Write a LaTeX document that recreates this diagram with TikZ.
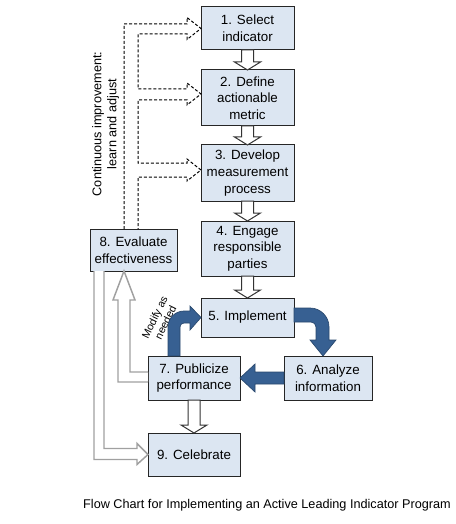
\documentclass[tikz,border=0pt]{standalone}
\usepackage{fontspec}
\setmainfont{Liberation Sans}
\usetikzlibrary{positioning}
\usetikzlibrary{calc}

\definecolor{boxfill}{HTML}{DCE6F2}
\definecolor{arrowblue}{HTML}{376092}
\definecolor{arrowgray}{HTML}{A0A0A0}

\begin{document}
\begin{tikzpicture}[x=0.75pt,y=-0.75pt,font=\fontsize{10}{12.5}\selectfont,
	stepbox/.style={draw=black!85,fill=boxfill,line width=0.75pt,align=center,inner sep=0pt,outer sep=0pt,minimum width=69.75pt},
	hollow/.style={draw=black!80,fill=white,line width=0.75pt},
	hollowdown/.style={to path={-- ($(\tikztostart)+(-6,0)$) -- ($(\tikztotarget)+(-6,-8)$) -- ($(\tikztotarget)+(-13,-8)$) -- (\tikztotarget) -- ($(\tikztotarget)+(13,-8)$) -- ($(\tikztotarget)+(6,-8)$) -- ($(\tikztostart)+(6,0)$) -- cycle}},
	bluearrow/.style={fill=arrowblue,draw=arrowblue!75!black,line width=0.5pt},
	grayarrow/.style={draw=arrowgray,fill=white,line width=1.1pt},
	dashline/.style={draw=black,line width=0.75pt,dash pattern=on 2.25pt off 1.5pt}]
	\useasboundingbox (0,0) rectangle (456,524);

	% main column
	\node [stepbox,minimum height=32.25pt] at (247.5,28.5) (b1) {1. Select\\indicator};
	\node [stepbox,minimum height=42pt,below=15pt of b1] (b2) {2. Define\\actionable\\metric};
	\node [stepbox,minimum height=42pt,below=14.25pt of b2] (b3) {3. Develop\\measurement\\process};
	\node [stepbox,minimum height=41.25pt,below=15pt of b3] (b4) {4. Engage\\responsible\\parties};
	\node [stepbox,minimum height=29.25pt,below=16.5pt of b4] (b5) {5. Implement};

	\node [stepbox,minimum height=33pt,minimum width=69pt] at (194,378) (b7) {7. Publicize\\performance};
	\node [stepbox,minimum height=33pt,minimum width=66pt,right=33pt of b7] (b6) {6. Analyze\\information};
	\node [stepbox,minimum height=31.5pt,minimum width=65.25pt] at (133.5,250) (b8) {8. Evaluate\\effectiveness};
	\node [stepbox,minimum height=32.25pt,minimum width=69pt,below=24.75pt of b7] (b9) {9. Celebrate};

	\node [rotate=90,align=center,font=\fontsize{9.5}{11.25}\selectfont] at (105.5,124) (loop_txt) {Continuous improvement:\\learn and adjust};
	\node [rotate=64,align=center,inner sep=0pt,font=\fontsize{8}{9}\selectfont] at (160,320) (modify_txt) {Modify as\\needed};
	\node [font=\fontsize{9.5}{11}\selectfont] at (267,505) (caption) {Flow Chart for Implementing an Active Leading Indicator Program};

	% white block arrows
	\draw [hollow] (b1.south) to[hollowdown] (b2.north);
	\draw [hollow] (b2.south) to[hollowdown] (b3.north);
	\draw [hollow] (b3.south) to[hollowdown] (b4.north);
	\draw [hollow] (b4.south) to[hollowdown] (b5.north);
	\draw [hollow] (b7.south) to[hollowdown] (b9.north);

	% blue cycle
	\filldraw [bluearrow,shift={(b5.east)}] (0,-9.5) -- (16,-9.5) .. controls (26.5,-9.5) and (35,-1) .. (35,9.5) -- (35,22.5) -- (42,22.5) -- ($(b6.north)+(-5,0)$) -- (16,22.5) -- (22,22.5) -- (22,9.5) .. controls (22,6.7) and (19.8,4.5) .. (17,4.5) -- (0,4.5) -- cycle;
	\filldraw [bluearrow] ($(b6.west)+(0,-6)$) -- ++(-29,0) -- ++(0,-8) -- (b7.east) -- ($(b6.west)+(-29,14)$) -- ++(0,-8) -- ($(b6.west)+(0,6)$) -- cycle;
	\filldraw [bluearrow,shift={(b7.north)}] (-26,0) -- (-26,-29) .. controls (-26,-37.8) and (-18.8,-45) .. (-10,-45) -- (-4,-45) -- (-4,-50) -- (b5.west) -- (-4,-26) -- (-4,-33) -- (-10,-33) .. controls (-12.2,-33) and (-14,-31.2) .. (-14,-29) -- (-14,0) -- cycle;

	% gray feedback arrows
	\draw [grayarrow] ($(b7.west)+(0,4)$) -| ($(b8.south)+(-15.5,29)$) -- ++(-5,0) -- ($(b8.south)+(-9.5,0)$) -- ++(11,29) -- ++(-5,0) |- ($(b7.west)+(0,-6)$);
	\draw [grayarrow] ($(b8.south)+(-39.5,0)$) |- ($(b9.west)+(-11,5)$) -- ++(0,5) -- (b9.west) -- ++(-11,-11) -- ++(0,5) -| ($(b8.south)+(-29.5,0)$);

	% dashed improvement loop
	\draw [dashline] ($(b8.north)+(-9.5,0)$) |- ($(b1.west)+(-14,-4.5)$) -- ++(0,-6.5) -- (b1.west) -- ++(-14,11) -- ++(0,-5.5) -- ++(-49,0) |- ($(b2.west)+(-14,-9)$) -- ++(0,-6) -- ($(b2.west)+(0,-4)$) -- ++(-14,11) -- ++(0,-5) -- ++(-49,0) |- ($(b3.west)+(-14,-10)$) -- ++(0,-4) -- ($(b3.west)+(0,-3)$) -- ++(-14,11) -- ++(0,-4) -- ++(-49,0) -- ($(b8.north)+(4.5,0)$);
\end{tikzpicture}
\end{document}
